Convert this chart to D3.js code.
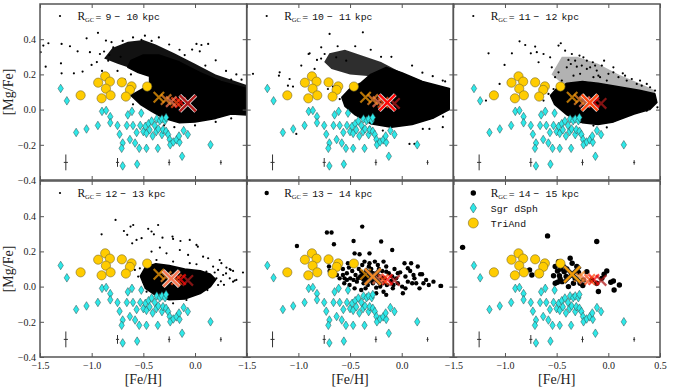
<!DOCTYPE html>
<html>
<head>
<meta charset="utf-8">
<script src="https://cdn.jsdelivr.net/npm/d3@7"></script>
<style>
body { margin: 0; background: #fff; }
svg { display: block; }
</style>
</head>
<body>
<script>
// radial bins (kpc) and the mean [Fe/H], [Mg/Fe] of each bin
var binEdges = [9, 10, 11, 12, 13, 14, 15];
var meanFeH = [-0.07, -0.14, -0.18, -0.23, -0.28, -0.35];
var meanMgFe = [0.035, 0.040, 0.040, 0.045, 0.057, 0.070];

// Sgr dSph stars [Fe/H, Mg/Fe]
var sgr = [[-1.30,0.12],[-1.24,0.05],[-1.15,-0.13],[-1.05,-0.11],[-0.94,-0.09],[-0.90,-0.01],[-0.86,-0.005],
  [-0.82,-0.04],[-0.82,-0.075],[-0.75,-0.09],[-0.73,-0.14],[-0.70,-0.19],[-0.71,-0.22],[-0.70,-0.32],[-0.66,-0.09],
  [-0.65,-0.03],[-0.63,-0.17],[-0.61,-0.01],[-0.60,-0.09],[-0.58,-0.19],[-0.56,-0.31],[-0.565,-0.13],[-0.54,-0.22],
  [-0.53,-0.09],[-0.52,-0.02],[-0.50,-0.125],[-0.48,-0.095],[-0.47,-0.22],[-0.47,-0.135],[-0.45,-0.08],[-0.44,-0.115],
  [-0.42,-0.065],[-0.41,-0.15],[-0.39,-0.09],[-0.375,-0.125],[-0.37,-0.053],[-0.36,-0.22],[-0.355,-0.11],[-0.34,-0.063],
  [-0.32,-0.053],[-0.32,-0.142],[-0.31,-0.114],[-0.29,-0.063],[-0.28,-0.123],[-0.28,-0.045],[-0.26,-0.142],[-0.245,-0.17],
  [-0.24,-0.20],[-0.21,-0.184],[-0.18,-0.172],[-0.15,-0.186],[-0.155,-0.15],[-0.11,-0.119],[-0.07,-0.142],[-0.125,-0.265],
  [0.15,-0.20]];

// TriAnd stars
var triand = [[-1.107,0.081],[-0.937,0.153],[-0.869,0.189],[-0.824,0.159],[-0.862,0.119],[-0.904,0.064],
  [-0.817,0.081],[-0.708,0.155],[-0.614,0.132],[-0.630,0.112],[-0.669,0.074],[-0.463,0.131]];

// typical error bars at [Mg/Fe] = -0.3
var errFeH = [-1.25, -0.75, -0.25, 0.25];
var errMgLevel = -0.3;
var errFeHSize = [0.02, 0.015, 0.012, 0.01];
var errMgSize = [0.045, 0.025, 0.017, 0.013];

var core9_10 = [[-0.62,0.08],[-0.5,0.12],[-0.44,0.15],[-0.44,0.19],[-0.55,0.21],[-0.65,0.24],[-0.62,0.28],[-0.5,0.31],
  [-0.35,0.31],[-0.15,0.27],[0.05,0.21],[0.25,0.16],[0.5,0.12],[0.52,0.05],[0.5,-0.03],[0.35,-0.025],[0.2,-0.05],
  [0.0,-0.07],[-0.15,-0.075],[-0.3,-0.05],[-0.42,-0.01],[-0.53,0.03]];
var halo9_10 = [[-0.88,0.29],[-0.8,0.35],[-0.65,0.385],[-0.5,0.395],[-0.38,0.37],[-0.2,0.32],[0.0,0.26],[0.2,0.2],
  [0.5,0.14],[0.5,0.1],[0.0,0.18],[-0.4,0.27],[-0.6,0.23],[-0.75,0.26]];
var stars9_10 = [[-1.468,0.364],[-1.419,0.377],[-1.494,0.326],[-1.445,0.244],[-1.291,0.373],[-1.297,0.263],[-1.291,0.206],
  [-1.210,0.360],[-1.136,0.331],[-1.172,0.206],[-1.049,0.405],[-0.939,0.436],[-1.088,0.216],[-1.001,0.254],[-0.920,0.316],
  [-1.017,0.326],[-0.862,0.392],[-0.808,0.383],[-0.791,0.354],[-0.840,0.278],[0.014,0.373],[0.062,0.367],[0.127,0.373],
  [0.046,0.331],[-0.028,0.341],[-0.485,0.420],[-0.518,0.396],[-0.95,0.27],[-0.9,0.22],[-0.75,0.22],[-0.62,0.2],
  [-0.68,0.17],[-0.35,0.41],[-0.25,0.37],[-0.15,0.34],[0.2,0.28],[0.3,0.22],[0.4,0.2],[0.45,0.17],[-0.3,-0.09],
  [-0.2,-0.1],[0.0,-0.09],[0.2,-0.07],[0.35,-0.05],[-0.6,0.03],[-0.65,0.06],[-0.7,0.39],[-0.6,0.41],[-0.42,0.39],
  [-0.1,0.31],[0.1,0.25],[0.35,0.17],[-0.88,0.33],[-0.83,0.31],[-0.72,0.3]];

var core10_11 = [[-0.58,0.07],[-0.5,0.12],[-0.4,0.15],[-0.3,0.2],[-0.15,0.24],[0.0,0.21],[0.2,0.16],[0.46,0.12],
  [0.46,0.0],[0.3,-0.05],[0.1,-0.085],[-0.1,-0.1],[-0.3,-0.08],[-0.45,-0.03],[-0.55,0.02]];
var halo10_11 = [[-0.75,0.27],[-0.7,0.32],[-0.55,0.34],[-0.4,0.31],[-0.2,0.27],[0.0,0.21],[0.25,0.15],[0.46,0.12],
  [0.46,0.09],[0.0,0.17],[-0.3,0.19],[-0.5,0.2],[-0.68,0.23]];
var stars10_11 = [[-0.376,0.439],[-0.698,0.430],[-0.891,0.320],[-0.820,0.282],[-0.972,0.250],[-1.181,0.212],[-1.188,0.193],
  [-1.439,0.203],[-1.085,0.174],[-1.101,0.136],[-1.052,0.131],[-1.020,-0.138],[-0.779,0.354],[-0.746,0.316],[-0.634,0.297],
  [-0.714,0.117],[-0.666,0.131],[-0.617,0.104],[0.075,-0.195],[0.123,-0.195],[0.204,-0.110],[0.268,-0.110],[0.397,-0.100],
  [0.461,0.117],[0.397,0.165],[-0.901,0.316],[-0.537,0.278],[-0.843,0.231],[-0.183,-0.119],[-0.311,-0.100],
  [-0.45,0.36],[-0.3,0.34],[-0.1,0.3],[0.1,0.25],[0.3,0.19],[-0.6,0.06],[0.4,-0.04],[-0.62,0.36],[-0.2,0.3],
  [0.2,0.21],[0.42,0.16],[-0.78,0.29]];

var core11_12 = [[-0.56,0.08],[-0.5,0.12],[-0.4,0.15],[-0.25,0.16],[-0.1,0.15],[0.1,0.13],[0.3,0.11],[0.45,0.09],
  [0.47,0.04],[0.4,0.0],[0.25,-0.025],[0.05,-0.07],[-0.1,-0.085],[-0.25,-0.075],[-0.4,-0.03],[-0.52,0.03]];
var halo11_12 = [[-0.55,0.2],[-0.45,0.3],[-0.3,0.3],[-0.1,0.26],[0.1,0.2],[0.3,0.15],[0.45,0.11],[0.45,0.09],
  [0.1,0.13],[-0.2,0.16],[-0.45,0.15]];
var stars11_12 = [[-1.159,0.320],[-1.004,0.254],[-0.859,0.388],[-0.933,0.320],[-0.804,0.367],[-0.750,0.320],[-0.708,0.358],
  [-0.692,0.326],[-1.052,0.146],[-1.184,0.051],[-0.675,0.269],[-0.627,0.316],[-0.563,0.297],[-0.547,0.240],[-0.482,0.364],
  [-0.460,0.377],[-0.418,0.335],[-0.386,0.282],[-0.363,0.259],[-0.402,0.240],[-0.321,0.278],[-0.279,0.307],[-0.257,0.250],
  [-0.208,0.278],[-0.176,0.240],[-0.150,0.269],[-0.112,0.222],[-0.063,0.250],[-0.041,0.278],[0.001,0.203],[0.049,0.212],
  [0.098,0.184],[0.140,0.206],[0.178,0.165],[0.227,0.174],[0.275,0.146],[0.323,0.136],[0.372,0.146],[0.404,0.127],
  [0.452,0.108],[-0.015,0.165],[-0.144,0.184],[-0.273,0.203],[-0.337,0.193],[-0.482,0.212],[-0.515,0.184],[-0.450,0.165],
  [-0.208,0.231],[-0.096,0.193],[-0.353,0.316],[-0.305,0.244],[-0.241,0.297],[-0.128,0.250],[-0.080,0.184],[0.049,0.240],
  [0.162,0.193],[0.307,0.165],[0.355,0.089],[0.436,0.051],[0.475,0.013],[0.372,-0.006],[0.178,-0.034],[-0.015,-0.101],
  [-0.144,-0.091],[-0.273,-0.072],[-0.402,-0.006],[-0.627,0.051],[-0.579,0.089],[-0.530,0.117],[-0.595,0.136]];

var core12_13 = [[-0.53,0.06],[-0.48,0.11],[-0.38,0.13],[-0.25,0.12],[-0.1,0.10],[0.05,0.09],[0.15,0.07],[0.2,0.04],
  [0.15,0.0],[0.05,-0.04],[-0.1,-0.07],[-0.25,-0.075],[-0.38,-0.05],[-0.48,-0.01]];
var stars12_13 = [[-0.769,0.379],[-0.904,0.297],[-0.688,0.316],[-0.624,0.341],[-0.598,0.350],[-0.453,0.328],[-0.357,0.350],
  [-0.656,0.294],[-0.608,0.246],[-0.566,0.265],[-0.517,0.275],[-0.421,0.313],[-0.398,0.297],[-0.315,0.278],[-0.218,0.284],
  [-0.212,0.271],[-0.141,0.259],[-0.051,0.265],[0.014,0.237],[0.027,0.227],[-0.340,0.222],[-0.421,0.199],[-0.276,0.189],
  [-0.147,0.208],[-0.067,0.180],[0.078,0.170],[0.127,0.161],[0.239,0.151],[0.255,0.133],[0.304,0.108],[0.336,0.100],
  [0.368,0.089],[0.223,0.095],[0.175,0.114],[0.272,0.066],[0.336,0.047],[0.175,0.028],[0.094,0.019],[0.223,0.009],
  [0.368,0.028],[0.400,0.038],[0.207,0.047],[0.143,0.057],[0.110,0.085],[0.046,-0.010],[-0.018,-0.047],[-0.212,-0.095],
  [-0.083,-0.076],[-0.373,-0.029],[-0.469,-0.029],[-0.502,0.028],[-0.550,0.057],[-0.534,0.104],[-0.485,0.133],
  [-0.373,0.151],[-0.212,0.142],[-0.051,0.133],[0.014,0.127],[-0.582,0.095],[0.345,0.095],[0.384,0.034],[0.464,0.080],
  [0.25,0.03],[0.3,0.075],[0.19,0.08],[0.12,-0.02],[0.28,0.01]];

var core13_14 = [[-0.42,0.05],[-0.38,0.08],[-0.3,0.09],[-0.22,0.07],[-0.2,0.04],[-0.28,0.025],[-0.36,0.03]];
var stars13_14 = [[-0.382,0.341],[-0.724,0.307],[-0.679,0.307],[-0.656,0.241],[-1.014,0.231],[-0.466,0.259],[-0.199,0.256],
  [-0.092,0.208],[-0.408,0.184],[-0.456,0.189],[-0.312,0.189],[-0.704,0.114],[-0.698,0.089],[-0.666,0.076],[-0.601,0.123],
  [-0.569,0.100],[-0.553,0.047],[-0.531,0.076],[-0.511,0.108],[-0.498,0.047],[-0.479,0.089],[-0.456,0.127],[-0.447,0.066],
  [-0.434,0.028],[-0.415,0.100],[-0.402,0.057],[-0.382,0.123],[-0.369,0.019],[-0.360,0.142],[-0.344,0.085],[-0.328,0.047],
  [-0.312,0.133],[-0.295,0.100],[-0.279,0.019],[-0.260,0.142],[-0.247,0.070],[-0.231,0.123],[-0.221,0.038],[-0.208,0.000],
  [-0.189,0.089],[-0.176,0.142],[-0.167,0.047],[-0.150,0.114],[-0.144,0.009],[-0.125,0.076],[-0.102,0.032],[-0.086,-0.010],
  [-0.070,0.100],[-0.054,0.047],[-0.038,0.019],[-0.015,0.081],[0.004,0.000],[0.027,0.133],[0.036,0.057],[0.059,0.028],
  [0.082,0.089],[0.101,0.019],[0.123,0.047],[0.155,0.114],[0.178,0.070],[0.197,0.070],[0.210,0.019],[0.236,0.038],
  [0.262,0.009],[0.307,0.028],[0.375,0.004],[0.172,-0.010],[0.011,-0.038],[-0.150,-0.047],[-0.247,-0.038],[-0.176,-0.029],
  [-0.350,-0.010],[-0.392,-0.019],[-0.456,-0.010],[-0.505,0.009],[-0.556,0.019],[-0.601,0.047],[-0.627,0.066],[-0.521,0.133],
  [-0.318,0.114],[-0.273,0.062],[-0.199,0.057],[-0.092,0.057],[-0.038,0.076],[-0.382,0.047],[-0.424,0.047],[-0.466,0.038],
  [-0.328,0.009],[-0.247,-0.006],[-0.183,0.019],[-0.080,0.009],[0.036,-0.010],[0.114,0.066],[0.140,0.019],[0.091,0.133],
  [0.059,0.104],[-0.221,0.100],[-0.150,0.085],[-0.392,0.085],[-0.531,0.038],[-0.569,0.066],[0.381,0.004]];

var core14_15 = [];
var stars14_15 = [[-1.410,0.223],[-0.588,0.288],[-0.112,0.256],[-0.762,0.095],[-0.740,0.066],[-0.659,0.066],[-0.514,0.114],
  [-0.492,0.089],[-0.482,0.142],[-0.473,0.062],[-0.460,0.100],[-0.440,0.119],[-0.427,0.085],[-0.408,0.057],[-0.369,0.161],
  [-0.350,0.133],[-0.321,0.047],[-0.337,0.019],[-0.305,0.114],[-0.492,0.025],[-0.447,0.028],[-0.514,0.019],[-0.208,0.085],
  [-0.160,0.038],[-0.112,0.019],[-0.096,-0.028],[-0.041,0.070],[-0.015,0.089],[0.024,0.025],[0.049,0.032],[0.056,-0.019],
  [0.107,0.009],[-0.273,0.019],[-0.386,0.000],[-0.247,0.006],[-0.466,0.044],[-0.530,0.062],[-0.353,0.066],[-0.402,0.100],
  [-0.289,0.081],[-0.241,0.038],[-0.063,0.047]];

var starsByBin = [stars9_10, stars10_11, stars11_12, stars12_13, stars13_14, stars14_15];
var coreByBin = [core9_10, core10_11, core11_12, core12_13, core13_14, core14_15];
var haloByBin = [halo9_10, halo10_11, halo11_12, [], [], []];

// styles
var binColors = ["#b01a1a", "#ff0a0a", "#ff4a12", "#f97a55", "#f08a28", "#f29a08"];
var dotR = [1.1, 1.1, 1.1, 1.1, 2.2, 2.7];
var haloOpacity = [0.93, 0.82, 0.3, 0, 0, 0];
var bigOutline = ["#e8e8e8", "#e8e8e8", "#e8e8e8", "#e8e8e8", "#333", "#222"];
var serif = "'Liberation Serif', 'DejaVu Serif', serif";
var mono = "'Liberation Mono', 'DejaVu Sans Mono', monospace";

var W = 681, H = 389;
var colX = [40, 246.7, 453.3], rowY = [4, 181];
var pw = 206.7, ph = 176;

var svg = d3.select("body").append("svg").attr("width", W).attr("height", H);
svg.append("rect").attr("width", W).attr("height", H).attr("fill", "#fff");
var defs = svg.append("defs");
var fmt = d3.format(".1f");

function diamond(w, h) { return "M0," + (-h) + "L" + w + ",0L0," + h + "L" + (-w) + ",0Z"; }
function cross(s) { return "M" + (-s) + "," + (-s) + "L" + s + "," + s + "M" + (-s) + "," + s + "L" + s + "," + (-s); }

function legendLabel(g, x, y, lo, hi) {
  var cw = 5.9;
  var t = g.append("text").attr("y", y).attr("fill", "#111").style("font-family", mono).style("font-size", "9.8px");
  t.append("tspan").attr("x", x).style("font-family", serif).style("font-size", "11.5px").text("R");
  t.append("tspan").attr("x", x + 7.5).attr("dy", 2.5).style("font-family", serif).style("font-size", "6.5px").text("GC");
  t.append("tspan").attr("x", x + 18).attr("dy", -2.5).text("=");
  var lx = x + 28;
  t.append("tspan").attr("x", lx).text(lo);
  var mx = lx + String(lo).length * cw + 3;
  t.append("tspan").attr("x", mx).text("\u2212");
  var hx = mx + 12;
  t.append("tspan").attr("x", hx).text(hi);
  t.append("tspan").attr("x", hx + String(hi).length * cw + 4).text("kpc");
}

binEdges.slice(0, 6).forEach(function(lo, i) {
  var col = i % 3, row = Math.floor(i / 3);
  var left = colX[col], top = rowY[row];
  var x = d3.scaleLinear().domain([-1.5, 0.5]).range([left, left + pw]);
  var y = d3.scaleLinear().domain([-0.4, 0.6]).range([top + ph, top]);

  defs.append("clipPath").attr("id", "clip" + i).append("rect")
    .attr("x", left).attr("y", top).attr("width", pw).attr("height", ph);
  var g = svg.append("g").attr("clip-path", "url(#clip" + i + ")");

  var outline = d3.line().x(function(d) { return x(d[0]); }).y(function(d) { return y(d[1]); })
    .curve(d3.curveLinearClosed);

  if (haloByBin[i].length) {
    g.append("path").attr("d", outline(haloByBin[i])).attr("fill", "#000").attr("opacity", haloOpacity[i]);
  }
  if (coreByBin[i].length) {
    g.append("path").attr("d", outline(coreByBin[i])).attr("fill", "#000")
      .attr("stroke", "#000").attr("stroke-width", 1.5).attr("stroke-linejoin", "round");
  }
  g.selectAll(".star").data(starsByBin[i]).enter().append("circle")
    .attr("class", "star")
    .attr("cx", function(d) { return x(d[0]); })
    .attr("cy", function(d) { return y(d[1]); })
    .attr("r", dotR[i])
    .attr("fill", "#000");

  // error bars
  var eb = g.selectAll(".err").data(errFeH).enter().append("g").attr("class", "err")
    .attr("stroke", "#333").attr("stroke-width", 1);
  eb.append("line")
    .attr("x1", function(d) { return x(d); }).attr("x2", function(d) { return x(d); })
    .attr("y1", function(d, k) { return y(errMgLevel + errMgSize[k]); })
    .attr("y2", function(d, k) { return y(errMgLevel - errMgSize[k]); });
  eb.append("line")
    .attr("x1", function(d, k) { return x(d - errFeHSize[k]); })
    .attr("x2", function(d, k) { return x(d + errFeHSize[k]); })
    .attr("y1", y(errMgLevel)).attr("y2", y(errMgLevel));

  g.selectAll(".sgr").data(sgr).enter().append("path")
    .attr("class", "sgr")
    .attr("d", diamond(2.7, 4.3))
    .attr("transform", function(d) { return "translate(" + x(d[0]) + "," + y(d[1]) + ")"; })
    .attr("fill", "#2ee8e8").attr("stroke", "#2a4a4a").attr("stroke-width", 0.5);

  g.selectAll(".tri").data(triand).enter().append("circle")
    .attr("class", "tri")
    .attr("cx", function(d) { return x(d[0]); })
    .attr("cy", function(d) { return y(d[1]); })
    .attr("r", 4.6)
    .attr("fill", "#ffcc00").attr("stroke", "#7a6a2a").attr("stroke-width", 0.6);

  // mean of every bin, this panel's bin drawn large
  meanFeH.forEach(function(fe, k) {
    if (k === i) return;
    g.append("path").attr("d", cross(5.2))
      .attr("transform", "translate(" + x(fe) + "," + y(meanMgFe[k]) + ")")
      .attr("stroke", binColors[k]).attr("stroke-width", 2.2).attr("opacity", 0.75).attr("fill", "none");
  });
  var big = g.append("g").attr("transform", "translate(" + x(meanFeH[i]) + "," + y(meanMgFe[i]) + ")");
  big.append("path").attr("d", cross(8)).attr("stroke", bigOutline[i]).attr("stroke-width", 4);
  big.append("path").attr("d", cross(8)).attr("stroke", binColors[i]).attr("stroke-width", 2.4);

  // axes, ticks pointing inward on all sides
  var xt = [-1.5, -1.0, -0.5, 0.0, 0.5];
  var yt = [-0.4, -0.2, 0.0, 0.2, 0.4];
  var ax = svg.append("g").attr("transform", "translate(0," + (top + ph) + ")")
    .call(d3.axisBottom(x).tickValues(xt).tickSize(-4).tickPadding(5)
      .tickFormat(function(d) { return (row === 1 && (d < 0.5 || col === 2)) ? fmt(d) : ""; }));
  var axT = svg.append("g").attr("transform", "translate(0," + top + ")")
    .call(d3.axisTop(x).tickValues(xt).tickSize(-4).tickFormat(""));
  var ay = svg.append("g").attr("transform", "translate(" + left + ",0)")
    .call(d3.axisLeft(y).tickValues(yt).tickSize(-4).tickPadding(4)
      .tickFormat(function(d) { return col === 0 ? fmt(d) : ""; }));
  var ayR = svg.append("g").attr("transform", "translate(" + (left + pw) + ",0)")
    .call(d3.axisRight(y).tickValues(yt).tickSize(-4).tickFormat(""));
  [ax, axT, ay, ayR].forEach(function(a) {
    a.select(".domain").remove();
    a.selectAll(".tick line").attr("stroke", "#555").attr("stroke-width", 1);
    a.selectAll(".tick text").attr("fill", "#222").style("font-family", serif).style("font-size", "10px");
  });

  svg.append("rect").attr("x", left).attr("y", top).attr("width", pw).attr("height", ph)
    .attr("fill", "none").attr("stroke", "#555").attr("stroke-width", 1.5);

  // legend
  var lg = svg.append("g");
  lg.append("circle").attr("cx", left + 20).attr("cy", top + 12).attr("r", dotR[i]).attr("fill", "#000");
  legendLabel(lg, left + 37.5, top + 15.5, lo, binEdges[i + 1]);
  if (i === 5) {
    lg.append("path").attr("d", diamond(3.2, 5))
      .attr("transform", "translate(" + (left + 20) + "," + (top + 27) + ")")
      .attr("fill", "#2ee8e8").attr("stroke", "#2a4a4a").attr("stroke-width", 0.5);
    lg.append("text").attr("x", left + 37.5).attr("y", top + 30.5).attr("fill", "#111")
      .style("font-family", mono).style("font-size", "9.8px").text("Sgr dSph");
    lg.append("circle").attr("cx", left + 20).attr("cy", top + 42).attr("r", 5)
      .attr("fill", "#ffcc00").attr("stroke", "#7a6a2a").attr("stroke-width", 0.6);
    lg.append("text").attr("x", left + 37.5).attr("y", top + 45.5).attr("fill", "#111")
      .style("font-family", mono).style("font-size", "9.8px").text("TriAnd");
  }

  if (col === 0) {
    svg.append("text").attr("transform", "translate(13," + (top + ph / 2) + ") rotate(-90)")
      .attr("text-anchor", "middle").attr("fill", "#222")
      .style("font-family", serif).style("font-size", "14px").text("[Mg/Fe]");
  }
  if (row === 1) {
    svg.append("text").attr("x", left + pw / 2).attr("y", 384)
      .attr("text-anchor", "middle").attr("fill", "#222")
      .style("font-family", serif).style("font-size", "14px").text("[Fe/H]");
  }
});
</script>
</body>
</html>
